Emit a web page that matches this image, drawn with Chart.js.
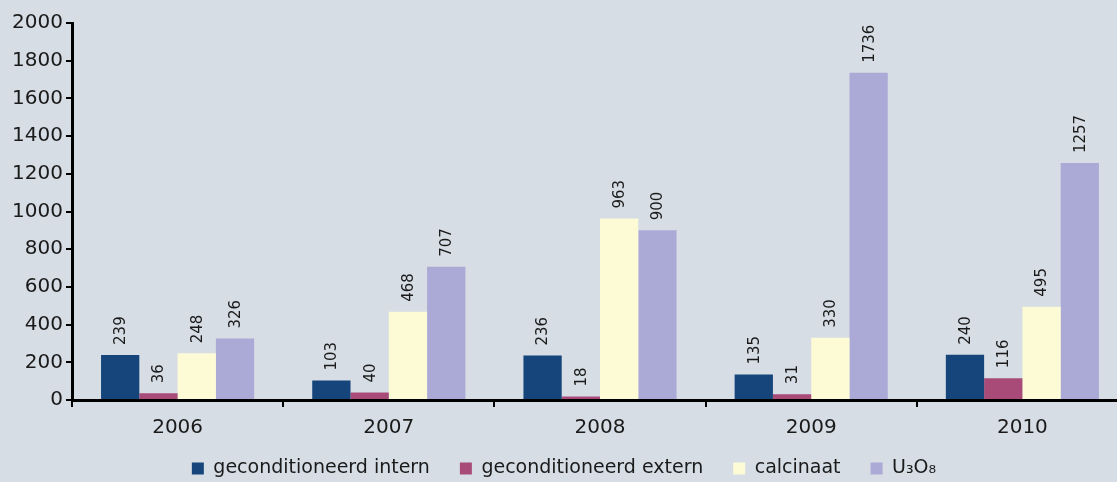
<!DOCTYPE html>
<html>
<head>
<meta charset="utf-8">
<script src="https://cdn.jsdelivr.net/npm/chart.js@4.4.0/dist/chart.umd.min.js"></script>
<style>
  html, body { margin: 0; padding: 0; background: #d6dde5; overflow: hidden; }
  #wrap { width: 1128px; height: 482px; }
</style>
</head>
<body>
<div id="wrap"><canvas id="chart"></canvas></div>
<script>
const years = ['2006', '2007', '2008', '2009', '2010'];
const seriesNames = ['geconditioneerd intern', 'geconditioneerd extern', 'calcinaat', 'U\u2083O\u2088'];
const intern = [239, 103, 236, 135, 240];
const extern = [36, 40, 18, 31, 116];
const calcinaat = [248, 468, 963, 330, 495];
const u3o8 = [326, 707, 900, 1736, 1257];
const yTicks = [0, 200, 400, 600, 800, 1000, 1200, 1400, 1600, 1800, 2000];

const colors = ['#15457a', '#a94b79', '#fdfad6', '#abaad6'];
const font = "'DejaVu Sans', sans-serif";

// rotated value labels above each bar
const valueLabels = {
    id: 'valueLabels',
    afterDatasetsDraw(chart) {
        const ctx = chart.ctx;
        ctx.save();
        ctx.fillStyle = '#1a1a1a';
        ctx.font = '15px ' + font;
        ctx.textAlign = 'left';
        ctx.textBaseline = 'middle';
        chart.data.datasets.forEach((ds, i) => {
            chart.getDatasetMeta(i).data.forEach((bar, j) => {
                ctx.save();
                ctx.translate(bar.x + 1, bar.y - 10);
                ctx.rotate(-Math.PI / 2);
                ctx.fillText(ds.data[j], 0, 0);
                ctx.restore();
            });
        });
        ctx.restore();
    }
};

// fixed legend height, then raise its top so the items sit where they should
const legendPlace = {
    id: 'legendPlace',
    beforeInit(chart) {
        const lg = chart.legend;
        const fit = lg.fit;
        lg.fit = function () {
            fit.call(this);
            this.height = 43;
        };
    },
    afterLayout(chart) {
        chart.legend.top -= 10;
    }
};

new Chart(document.getElementById('chart'), {
    type: 'bar',
    data: {
        labels: years,
        datasets: [intern, extern, calcinaat, u3o8].map((d, i) => ({
            label: seriesNames[i],
            data: d,
            backgroundColor: colors[i],
            borderWidth: 0,
            barPercentage: 1,
            categoryPercentage: 0.725
        }))
    },
    options: {
        responsive: true,
        maintainAspectRatio: false,
        animation: false,
        layout: { padding: { top: 23, right: 0, left: 0, bottom: 0 } },
        scales: {
            x: {
                afterFit: axis => { axis.height = 39; },
                grid: { display: true, drawOnChartArea: false, offset: true, color: '#000', lineWidth: 2, tickLength: 7 },
                border: { color: '#000', width: 3 },
                ticks: { color: '#1a1a1a', font: { family: font, size: 20 }, padding: 9 }
            },
            y: {
                min: 0,
                max: 2000,
                afterBuildTicks: axis => { axis.ticks = yTicks.map(v => ({ value: v })); },
                afterFit: axis => { axis.width = 72; },
                grid: { display: true, drawOnChartArea: false, color: '#000', lineWidth: 2, tickLength: 6 },
                border: { color: '#000', width: 3 },
                ticks: { color: '#1a1a1a', font: { family: font, size: 20 }, padding: 3, callback: v => String(v) }
            }
        },
        plugins: {
            legend: {
                position: 'bottom',
                labels: {
                    color: '#1a1a1a',
                    font: { family: font, size: 19 },
                    boxWidth: 12,
                    boxHeight: 12,
                    padding: 30
                }
            },
            tooltip: { enabled: false }
        }
    },
    plugins: [valueLabels, legendPlace]
});
</script>
</body>
</html>
